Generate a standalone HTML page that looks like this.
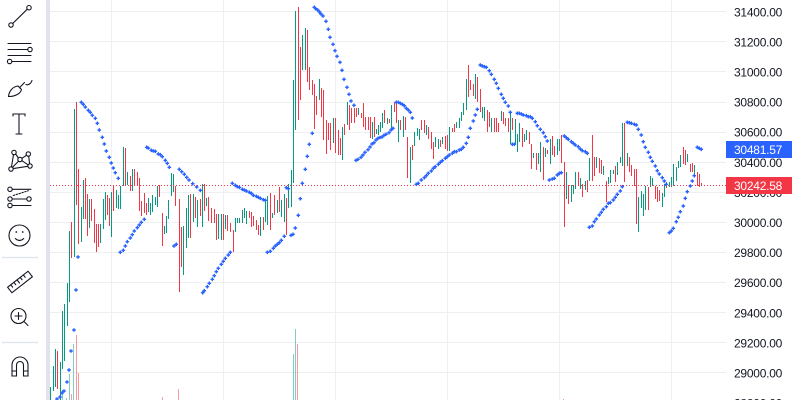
<!DOCTYPE html>
<html><head><meta charset="utf-8"><style>
html,body{margin:0;padding:0;background:#fff;}
svg{display:block;}
text{font-family:"Liberation Sans",sans-serif;font-size:12px;letter-spacing:-0.25px;}
</style></head><body>
<svg width="792" height="400" viewBox="0 0 792 400" xmlns="http://www.w3.org/2000/svg">
<defs>
<marker id="p" markerUnits="userSpaceOnUse" markerWidth="6" markerHeight="6" refX="3" refY="3" overflow="visible"><path d="M1.2 3h3.6M3 1.2v3.6" stroke="#2962ff" stroke-width="1.4" fill="none"/></marker>
</defs>
<rect x="0" y="0" width="792" height="400" fill="#fff"/>
<!-- toolbar separator strip -->
<rect x="46" y="0" width="4" height="400" fill="#e0e3eb"/>
<!-- grid -->
<g stroke="#eeeff1" stroke-width="1">
<path d="M50 11.5H726M50 41.5H726M50 71.5H726M50 102.5H726M50 132.5H726M50 162.5H726M50 192.5H726M50 222.5H726M50 252.5H726M50 282.5H726M50 312.5H726M50 342.5H726M50 372.5H726"/>
<path d="M111.5 0V400M223.5 0V400M335.5 0V400M447.5 0V400M559.5 0V400M671.5 0V400"/>
</g>
<!-- volume -->
<path d="M62.5 390V400M66.5 398V400M69.5 374V400M73.5 344V400M293.5 354V400M295.5 329V400" stroke="rgba(8,153,129,0.5)" stroke-width="1"/>
<path d="M71.5 394V400M76.5 335V400M78.5 373V400M162.5 397V400M178.5 389V400M297.5 344V400M563.5 399V400" stroke="rgba(242,54,69,0.5)" stroke-width="1"/>
<!-- candles -->
<path stroke="#089981" stroke-width="1" fill="none" d="M50.5 387V400M53.5 366V391M55.5 349V387M60.5 362V400M62.5 311V369M64.5 304V361M67.5 283V326M69.5 231V302M74.5 109V257M81.5 207V242M83.5 180V219M89.5 199V228M100.5 224V243M103.5 199V229M105.5 192V220M111.5 192V237M116.5 190V208M118.5 195V209M120.5 186V209M123.5 147V186M127.5 172V185M132.5 169V191M148.5 198V212M150.5 203V215M152.5 195V212M155.5 197V205M157.5 186V207M164.5 226V234M166.5 216V233M168.5 200V219M171.5 173V196M173.5 174V192M183.5 226V275M186.5 208V248M188.5 195V238M193.5 194V222M197.5 200V227M202.5 184V227M206.5 198V206M218.5 214V239M221.5 214V240M225.5 215V229M235.5 218V232M237.5 218V223M239.5 218V223M242.5 210V223M244.5 208V218M246.5 211V224M260.5 217V236M265.5 200V222M267.5 196V225M272.5 213V218M277.5 200V213M281.5 200V217M284.5 194V222M288.5 184V208M291.5 170V207M293.5 80V183M295.5 11V130M302.5 35V70M305.5 28V70M319.5 79V100M333.5 118V143M342.5 127V160M347.5 102V125M358.5 108V115M372.5 122V139M376.5 129V134M378.5 125V135M380.5 122V132M382.5 113V128M387.5 118V124M391.5 105V131M398.5 120V142M403.5 116V137M410.5 147V183M414.5 132V146M417.5 128V136M419.5 129V140M426.5 125V135M435.5 137V147M438.5 139V149M442.5 137V144M449.5 127V151M456.5 122V128M459.5 118V128M461.5 112V121M463.5 103V115M466.5 79V110M475.5 74V99M482.5 107V118M484.5 107V121M491.5 118V132M501.5 111V121M510.5 113V144M515.5 119V144M517.5 134V152M519.5 123V142M524.5 134V142M526.5 130V140M533.5 153V158M538.5 153V164M540.5 142V172M545.5 148V157M550.5 139V164M557.5 139V155M559.5 139V151M566.5 172V199M571.5 185V202M573.5 185V194M575.5 172V189M580.5 178V189M585.5 181V190M589.5 158V181M596.5 157V168M603.5 166V175M608.5 177V184M610.5 170V183M613.5 170V174M617.5 162V175M620.5 157V163M622.5 123V166M627.5 153V166M638.5 197V232M641.5 191V208M643.5 194V216M645.5 186V210M650.5 176V187M652.5 178V186M662.5 193V207M664.5 184V197M669.5 182V187M671.5 177V187M673.5 164V186M676.5 167V181M678.5 161V168M680.5 155V167M687.5 154V162M694.5 165V177"/>
<path stroke="#f23645" stroke-width="1" fill="none" d="M57.5 351V389M71.5 222V258M76.5 102V205M78.5 169V244M85.5 178V219M87.5 194V236M91.5 199V221M94.5 209V243M96.5 224V252M98.5 224V247M107.5 195V215M109.5 198V226M113.5 186V211M125.5 148V185M130.5 176V191M134.5 169V185M137.5 172V186M139.5 178V211M141.5 201V216M144.5 193V213M146.5 203V215M159.5 185V197M162.5 213V246M175.5 186V206M179.5 199V292M181.5 227V267M190.5 194V238M195.5 197V218M200.5 199V216M204.5 184V211M208.5 197V221M211.5 208V223M214.5 209V223M216.5 214V240M223.5 214V240M227.5 215V231M230.5 223V232M233.5 230V252M249.5 211V218M251.5 212V227M253.5 216V226M256.5 220V230M258.5 225V235M263.5 217V230M270.5 193V230M274.5 195V215M279.5 187V212M286.5 198V235M298.5 7V120M300.5 47V100M307.5 30V82M309.5 67V90M312.5 80V95M314.5 84V129M316.5 96V115M321.5 88V117M323.5 90V140M326.5 120V154M328.5 123V140M330.5 123V150M335.5 118V153M338.5 130V155M340.5 138V155M344.5 124V135M349.5 105V130M351.5 108V123M354.5 108V123M356.5 108V117M361.5 113V118M363.5 103V127M365.5 117V130M368.5 117V130M370.5 117V138M374.5 117V137M384.5 110V123M389.5 119V123M394.5 102V112M396.5 103V123M400.5 120V130M405.5 117V130M407.5 137V178M412.5 145V160M421.5 120V130M424.5 120V133M428.5 127V139M431.5 132V149M433.5 142V159M440.5 140V147M445.5 136V149M447.5 135V151M452.5 128V132M454.5 124V132M468.5 65V97M470.5 80V90M473.5 84V96M477.5 77V102M480.5 89V112M487.5 110V132M489.5 112V127M494.5 118V132M496.5 118V132M498.5 123V132M503.5 112V124M505.5 118V126M508.5 118V132M512.5 118V130M522.5 128V147M529.5 132V144M531.5 144V169M536.5 153V170M543.5 147V180M547.5 150V154M552.5 136V155M554.5 146V157M561.5 135V163M564.5 162V227M568.5 185V204M578.5 172V185M582.5 184V197M587.5 180V192M592.5 135V181M594.5 157V176M599.5 158V173M601.5 160V174M606.5 181V202M615.5 166V182M624.5 123V182M629.5 157V172M631.5 165V176M634.5 169V186M636.5 169V224M648.5 187V210M655.5 186V199M657.5 187V202M659.5 190V201M666.5 182V188M683.5 147V164M685.5 150V165M690.5 164V172M692.5 163V172M697.5 172V186M699.5 174V187M701.5 183V186"/>
<!-- price line -->
<path d="M50 185.5H726" stroke="#f23645" stroke-width="1" stroke-dasharray="1 2"/>
<!-- SAR -->
<polyline fill="none" stroke="none" marker-start="url(#p)" marker-mid="url(#p)" marker-end="url(#p)" points="57,399 60,397 62,393 64,391 67,382 69,370 71,351 74,330 76,290 78,257 81.3,102.3 83.3,104.3 85.3,107 88.3,110.3 90.3,112.3 92.3,115.3 95.3,118.3 97.3,123.3 99.3,130 102.3,137.3 104.3,144 106.3,151 109.3,157.3 111.3,163 113.3,168 115.3,172.7 118.3,178.3 120.3,252.3 123.3,250.3 125.3,246 127.3,241.7 130.3,238 132.3,234.7 134.3,231 137.3,227.7 139.3,225 141.3,222.3 144.3,219.3 146.7,147.3 148.3,148 151.3,150.3 153.3,151 155.3,151.3 158.3,154 160.3,154.7 162.3,156.7 165.3,160.3 167.3,163.3 169.3,167.3 174,246 176.3,244.3 179.3,169.3 181.7,171.7 184.3,174.3 186.7,177.3 189,180 192.7,183.7 196.7,187 200.3,190.3 202.7,292.7 204.3,290.7 207.3,286.7 209.3,283.3 212.3,279.3 214.3,275.7 216.3,271.7 218.3,268.3 221.3,264.3 223.3,261.3 225.3,258.3 228.3,255 230.3,252.3 232.3,183.3 235.3,185.3 237.3,186.7 239.3,187.3 242.3,189.3 244.3,190 246.3,191 249.3,192.3 251.3,193.3 253.3,195.3 256.3,196.3 258.3,197.3 260.3,198.3 263.3,199.7 265.3,200.3 267.3,252.3 270.3,251.3 273.3,248.3 275.3,246 277.3,244.3 279.3,242.7 281.3,240.3 284.3,236.3 286.3,187.7 288.3,188.7 291,235.3 293,234.3 295.3,228 298.3,215.3 300.3,198.7 302.3,183.3 305.3,169.3 307.3,156.3 309.3,144.3 312.3,133.3 314.3,7.3 315.7,8.7 317.7,10 319.5,12 321,14 323,16 326,21.3 328.3,29.3 330,37.3 333,44.3 335,50.7 337,56.3 340,62.3 342,70.3 344,79.3 347,87.3 349,94.3 351,101 354,105.3 356,160.3 358,159.3 361,157.3 363,155 365,152.3 368,149.7 370,147 372,144 374,142.7 376,140 378,138.3 380,137.5 382,137 384,135.3 386,134.3 389,132.7 391,130 393,128.3 396.3,102.3 398.3,102.3 400.3,103.3 402.3,104.3 404.3,105.7 406.3,108.3 408.3,110 410.3,112.3 412.3,118 416.3,184.3 418.3,183.3 421.3,180 424.3,177.7 426.3,175.7 428.3,173.3 431.3,171 433.3,168.3 435.3,166.7 438.3,164.3 440.3,162.3 442.3,160.7 445.3,158.3 447.3,156.7 449.3,155 452.3,153.3 454.3,151.7 456.3,151.7 459.3,150 461.3,149.3 463.3,147.3 466.3,143.3 468.3,137.3 470.3,128.3 473.3,121 475.3,115 477.3,109.3 480.3,65 482.3,66 484.3,66.7 486.3,67.3 489.3,70.7 491.3,74.3 494.3,79.3 496.3,83.3 498.3,88.3 501.3,94.3 503.3,98.3 505.3,102.3 508.3,106 510.3,112.3 512.3,144.3 514.3,144.3 517.3,113.3 519.3,113.3 521.3,114 523.3,115 526.3,115.7 528.3,116.7 530.3,116.7 532.3,118.3 535.3,121.7 537.3,125.7 540.3,129.3 543.3,132.7 545.3,136.7 547.3,141 549.3,180 552.3,179 554.3,178.3 557.3,175 559.3,173.3 561.3,172.7 564.3,136 566.3,137.7 568.3,139.3 571.3,141.7 573.3,143.3 575.3,145 578.3,146.7 580.3,149 582.3,150.7 585.3,151.7 587.3,153.3 589.3,227.3 592.3,226 594.3,221.7 596.3,219 599.3,215 601.3,212.3 603.3,209.3 606.3,206.7 608.3,203.3 610.3,202.7 613.3,200 615.3,197.3 617.3,194.3 620.3,191 622.3,186.7 627.3,122.3 629.3,122.7 631.3,123.3 634.3,124.3 636.3,125 638.3,129.3 641.3,135 643.3,141.7 645.3,147.3 648.3,152.3 650.3,157.3 652.3,161.3 655.3,166 657.3,170.7 659.3,174 662.3,177.7 664.3,181 666.3,184.3 669.3,232.7 671.3,231 673.3,228.3 676.3,221.7 678.3,217.3 680.3,211.7 683.3,206 685.3,198.3 687.3,191.7 690.3,186 692.3,181 694.3,175.7 697.3,147.3 699.3,148.3 701.3,149.3"/>
<!-- price axis labels -->
<g fill="#131722">
<text x="734" y="16.3">31400.00</text>
<text x="734" y="46.4">31200.00</text>
<text x="734" y="76.5">31000.00</text>
<text x="734" y="106.6">30800.00</text>
<text x="734" y="136.7">30600.00</text>
<text x="734" y="166.8">30400.00</text>
<text x="734" y="196.9">30200.00</text>
<text x="734" y="227">30000.00</text>
<text x="734" y="257.1">29800.00</text>
<text x="734" y="287.2">29600.00</text>
<text x="734" y="317.3">29400.00</text>
<text x="734" y="347.4">29200.00</text>
<text x="734" y="377.5">29000.00</text>
<text x="734" y="407.6">28800.00</text>
</g>
<rect x="726" y="141" width="66" height="17" fill="#2962ff"/>
<text x="734" y="153.8" fill="#ffffff">30481.57</text>
<rect x="726" y="177" width="66" height="17" fill="#f23645"/>
<text x="734" y="189.8" fill="#ffffff">30242.58</text>
<!-- toolbar icons -->
<g stroke="#131722" stroke-width="1.1" fill="none" stroke-linecap="round">
<!-- trend line -->
<path d="M12.7 23.5L27.3 9.2"/>
<circle cx="11" cy="25" r="2.2"/><circle cx="29" cy="7.7" r="2.2"/>
<!-- horizontal lines -->
<path d="M8 43.5H31M8 49.5H27.6M8 55.5H31M12 61.5H31"/>
<circle cx="30" cy="49.5" r="2.2"/><circle cx="9.6" cy="61.5" r="2.2"/>
<!-- brush -->
<path d="M8.5 96.5C9 91 13 86.5 18 86L21.5 89.5C20.5 93.8 15 96.5 8.5 96.5Z"/>
<path d="M19.5 87.8L24.5 82.5M26 84.5C28.5 85.5 31 83.5 32 80.5"/>
<!-- T -->
<path d="M13 116V114H25V116M19 114V134M16 134H22"/>
<!-- nodes -->
<circle cx="14" cy="152.5" r="2.2"/><circle cx="28.3" cy="154" r="2.2"/><circle cx="20" cy="159.5" r="2.2"/><circle cx="11" cy="169" r="2.2"/><circle cx="30" cy="166" r="2.2"/>
<path d="M15.6 154L18.4 158M26.6 155.2L21.8 158.4M18.6 161.1L12.4 167.4M21.7 160.6L28.3 164.9M13.5 154.7L11.5 166.8M28.7 156.2L29.6 163.8M13.2 168.6L27.8 166.3"/>
<!-- fib -->
<circle cx="10" cy="189.3" r="2.2"/><path d="M12.2 189.3H31"/>
<circle cx="10" cy="199" r="2.2"/><circle cx="29" cy="199" r="2.2"/><path d="M12.2 199H26.8"/>
<path d="M13.3 195.5L28.3 190.7" stroke-dasharray="1.5 1.5"/>
<circle cx="10" cy="205.5" r="2.2"/><path d="M12.2 205.5H31"/>
<!-- smile -->
<circle cx="19.5" cy="235.5" r="10.5"/>
<path d="M15.3 238.5Q19.5 242.5 23.7 238.5"/>
<!-- ruler -->
<g transform="rotate(-38 20 282)"><rect x="7" y="278.5" width="26" height="7"/><path d="M11 278.5V281.5M15 278.5V281.5M19 278.5V282.5M23 278.5V281.5M27 278.5V281.5"/></g>
<!-- zoom -->
<circle cx="18.5" cy="316" r="7.5"/><path d="M15 316H22M18.5 312.5V319.5M24 321.5L28 325.5"/>
<!-- magnet -->
<path d="M12 376V365A8 8 0 0 1 28 365V376H23.5V365A3.5 3.5 0 0 0 16.5 365V376Z"/>
<path d="M12 371H16.5M23.5 371H28"/>
</g>
<g fill="#131722"><circle cx="16.3" cy="232" r="0.9"/><circle cx="22.7" cy="232" r="0.9"/></g>
<path d="M2 257.5H38M2 342.5H38" stroke="#e0e3eb" stroke-width="1.2"/>
</svg>
</body></html>
